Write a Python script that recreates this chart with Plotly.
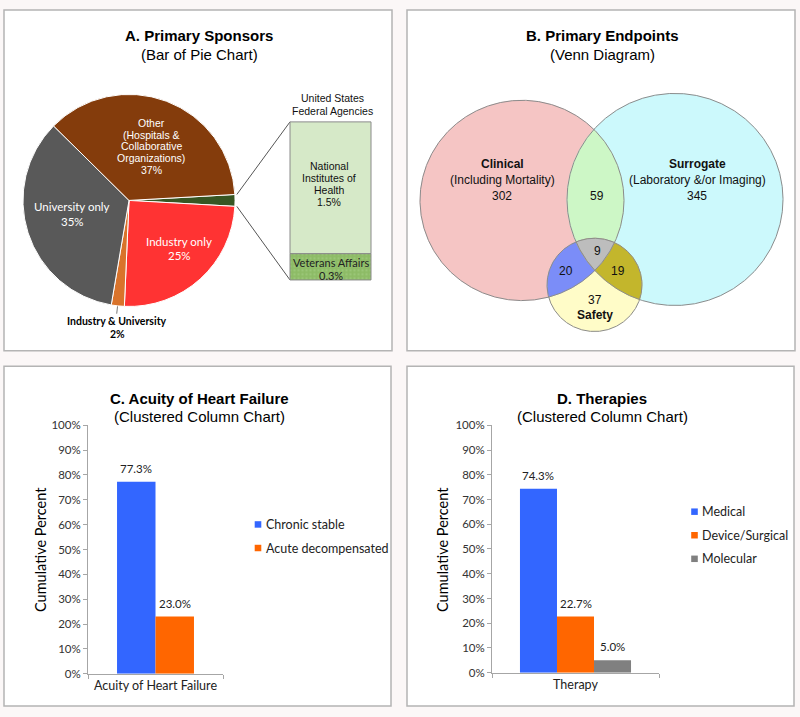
import numpy as np
import plotly.graph_objects as go

W, H = 800, 717

# ---------------- data ----------------
sponsor_labels = ["United States Federal Agencies", "Industry only", "Industry & University",
                  "University only", "Other (Hospitals & Collaborative Organizations)"]
sponsor_values = [1.8, 25, 2, 35, 37]
sponsor_colors = ["#375623", "#ff3333", "#d9732b", "#595959", "#843c0c"]

federal_labels = ["Veterans Affairs", "National Institutes of Health"]
federal_values = [0.3, 1.5]
federal_colors = ["#8dbb66", "#d6e9c8"]

venn_sets = ["Clinical", "Surrogate", "Safety"]
venn_clinical_only = 302
venn_surrogate_only = 345
venn_safety_only = 37
venn_clin_surr = 59
venn_clin_safe = 20
venn_surr_safe = 19
venn_all = 9

acuity_categories = ["Acuity of Heart Failure"]
acuity_series = ["Chronic stable", "Acute decompensated"]
acuity_values = [77.3, 23.0]
acuity_colors = ["#3366ff", "#ff6600"]

therapy_categories = ["Therapy"]
therapy_series = ["Medical", "Device/Surgical", "Molecular"]
therapy_values = [74.3, 22.7, 5.0]
therapy_colors = ["#3366ff", "#ff6600", "#808080"]

pct_tickvals = list(range(0, 101, 10))
pct_ticktext = ["%d%%" % v for v in pct_tickvals]

# ---------------- helpers ----------------
ARIAL = "Liberation Sans, Arial, sans-serif"
CAL = "Lato, sans-serif"


def pxx(x):
    return x / W


def pxy(y):
    return 1 - y / H


fig = go.Figure()
annotations = []
shapes = []


def lines_label(lines, x, y0, dy, size, color="#111", family=ARIAL, bold=None, xanchor="center"):
    for i, t in enumerate(lines):
        b = bold[i] if bold else False
        annotations.append(dict(
            x=x, y=y0 + i * dy, xref="x", yref="y", showarrow=False,
            text=("<b>%s</b>" % t) if b else t, xanchor=xanchor, yanchor="middle",
            font=dict(family=family, size=size, color=color)))


# panel backgrounds
panels = [(4, 3, 392, 350), (407, 3, 795, 350), (4, 366, 391, 712), (407, 366, 794, 712)]
for (x0, y0, x1, y1) in panels:
    shapes.append(dict(type="rect", xref="paper", yref="paper", x0=pxx(x0), x1=pxx(x1),
                       y0=pxy(y1), y1=pxy(y0), fillcolor="white",
                       line=dict(color="#b4b4b4", width=1.5), layer="below"))

# titles
for (cxp, t1, t2, y1, y2) in [(199, "A. Primary Sponsors", "(Bar of Pie Chart)", 29.5, 48),
                              (602, "B. Primary Endpoints", "(Venn Diagram)", 29.5, 48),
                              (199, "C. Acuity of Heart Failure", "(Clustered Column Chart)", 399, 417),
                              (602, "D. Therapies", "(Clustered Column Chart)", 399, 417)]:
    lines_label([t1], cxp, y1, 0, 15, color="black", bold=[True])
    lines_label([t2], cxp, y2, 0, 15, color="black")

# ---------------- A: bar of pie ----------------
cx, cy, R = 129, 197, 108
total = sum(sponsor_values)
rot = 90 - sponsor_values[0] / total * 360 / 2
fig.add_trace(go.Pie(
    values=sponsor_values, labels=sponsor_labels, sort=False, direction="clockwise",
    rotation=rot, textinfo="none", hoverinfo="label+value", showlegend=False,
    marker=dict(colors=sponsor_colors, line=dict(color="white", width=1)),
    domain=dict(x=[pxx(cx - R), pxx(cx + R)], y=[pxy(cy + R), pxy(cy - R)])))


def pie_pt(angle_deg, r):
    a = np.deg2rad(angle_deg)
    return cx + r * np.sin(a), cy - r * np.cos(a)


# bar of pie geometry
bx0, bx1, by0, by1 = 290, 371, 117, 278
ftot = sum(federal_values)
ux = bx1 - bx0
uy = (by1 - by0) / ftot
pad = 1.5
base = 0
for lab, v, c in zip(federal_labels, federal_values, federal_colors):
    pattern = dict(shape=".", fgcolor="#a9d38c", size=4, solidity=0.25) if lab == "Veterans Affairs" else None
    fig.add_trace(go.Bar(x=[0], y=[v], base=[base], width=[1], name=lab,
                         marker=dict(color=c, line=dict(color="#8a8a8a", width=1),
                                     pattern=pattern),
                         xaxis="x2", yaxis="y2", showlegend=False))
    base += v

# connector lines
a0 = rot
a1 = rot + sponsor_values[0] / total * 360
p0 = pie_pt(a0, R)
p1 = pie_pt(a1, R)
fig.add_trace(go.Scatter(x=[p0[0], bx0, None, p1[0], bx0], y=[p0[1], by0, None, p1[1], by1],
                         mode="lines", line=dict(color="#555555", width=1),
                         hoverinfo="skip", showlegend=False, xaxis="x", yaxis="y"))

# leader line for Industry & University
start = rot + sum(sponsor_values[:2]) / total * 360
mid = start + sponsor_values[2] / total * 360 / 2
q0 = pie_pt(mid, R - 1)
q1 = pie_pt(mid, R + 8)
fig.add_trace(go.Scatter(x=[q0[0], q1[0]], y=[q0[1], q1[1]], mode="lines",
                         line=dict(color="#777777", width=1), hoverinfo="skip",
                         showlegend=False, xaxis="x", yaxis="y"))

lines_label(["Other", "(Hospitals &", "Collaborative", "Organizations)",
             "%d%%" % sponsor_values[4]], 151, 118, 12, 10.5, color="white")
lines_label(["University only", "%d%%" % sponsor_values[3]], 72, 203, 15, 11.5,
            color="white", family=CAL)
lines_label(["Industry only", "%d%%" % sponsor_values[1]], 179, 239, 14.5, 11.5,
            color="white", family=CAL)
lines_label(["Industry & University", "%d%%" % sponsor_values[2]], 117, 320, 13, 10.5,
            color="black", family=CAL, bold=[True, True])
lines_label(["United States", "Federal Agencies"], 332, 93, 13, 10.5, color="#111")
lines_label(["National", "Institutes of", "Health", "%.1f%%" % federal_values[1]],
            329, 162, 12.3, 10.5, color="#111")
lines_label(["Veterans Affairs", "%.1f%%" % federal_values[0]], 331, 260, 13.5, 11,
            color="#222", family=CAL)

# ---------------- B: Venn ----------------
C_clin = (522, 197, 102)
C_surr = (675, 196, 108)
C_safe = (594.5, 283, 47.5)


def circ_pts(c, n=900):
    t = np.linspace(0, 2 * np.pi, n, endpoint=False)
    return np.c_[c[0] + c[2] * np.cos(t), c[1] + c[2] * np.sin(t)]


def inter_poly(circles):
    pts = []
    for i, c in enumerate(circles):
        P = circ_pts(c)
        m = np.ones(len(P), bool)
        for j, d in enumerate(circles):
            if j != i:
                m &= (P[:, 0] - d[0]) ** 2 + (P[:, 1] - d[1]) ** 2 <= d[2] ** 2 + 1e-9
        pts.append(P[m])
    P = np.vstack(pts)
    ctr = P.mean(0)
    ang = np.arctan2(P[:, 1] - ctr[1], P[:, 0] - ctr[0])
    P = P[np.argsort(ang)]
    return np.vstack([P, P[:1]])


venn_regions = [
    ([C_clin], "#f5c5c4"),
    ([C_surr], "#ccf9fc"),
    ([C_clin, C_surr], "#cdf7c6"),
    ([C_safe], "#fffcc8"),
    ([C_clin, C_safe], "#7b8df8"),
    ([C_surr, C_safe], "#c3b62c"),
    ([C_clin, C_surr, C_safe], "#bdbdbd"),
]
for circles, col in venn_regions:
    P = inter_poly(circles)
    fig.add_trace(go.Scatter(x=P[:, 0], y=P[:, 1], mode="lines", fill="toself",
                             fillcolor=col, line=dict(width=0.5, color=col),
                             hoverinfo="skip", showlegend=False, xaxis="x", yaxis="y"))
for c in [C_clin, C_surr, C_safe]:
    P = circ_pts(c)
    P = np.vstack([P, P[:1]])
    fig.add_trace(go.Scatter(x=P[:, 0], y=P[:, 1], mode="lines",
                             line=dict(color="#8c8c8c", width=1),
                             hoverinfo="skip", showlegend=False, xaxis="x", yaxis="y"))

lines_label(["Clinical", "(Including Mortality)", str(venn_clinical_only)], 502, 160, 16, 12,
            color="#111", bold=[True, False, False])
lines_label(["Surrogate", "(Laboratory &/or Imaging)", str(venn_surrogate_only)], 697, 160, 16, 12,
            color="#111", bold=[True, False, False])
lines_label([str(venn_clin_surr)], 597, 192, 0, 12)
lines_label([str(venn_all)], 597, 248, 0, 12)
lines_label([str(venn_clin_safe)], 566, 269, 0, 12)
lines_label([str(venn_surr_safe)], 618, 269, 0, 12)
lines_label([str(venn_safety_only), "Safety"], 595, 298, 15.5, 12, bold=[False, True])

# ---------------- C & D: clustered columns ----------------
def add_columns(cats, series, values, colors, xa, ya, group_w):
    w = group_w / len(series)
    st = -group_w / 2
    for i, (s, v, c) in enumerate(zip(series, values, colors)):
        fig.add_trace(go.Bar(x=cats, y=[v], name=s, width=[w], offset=[st + i * w],
                             marker=dict(color=c, line=dict(width=0)),
                             xaxis=xa, yaxis=ya, showlegend=False))
        annotations.append(dict(x=st + i * w + w / 2, y=v, xref=xa, yref=ya,
                                yshift=13.5, showarrow=False, text="%.1f%%" % v,
                                font=dict(family=CAL, size=11.5, color="#222")))


add_columns(acuity_categories, acuity_series, acuity_values, acuity_colors, "x3", "y3", 0.57)
add_columns(therapy_categories, therapy_series, therapy_values, therapy_colors, "x4", "y4", 0.665)

# manual legends
for series, colors, sx, ys in [(acuity_series, acuity_colors, 258, [527, 551]),
                               (therapy_series, therapy_colors, 694.5, [514, 538, 562])]:
    for s, c, yy in zip(series, colors, ys):
        shapes.append(dict(type="rect", xref="x", yref="y", x0=sx - 3.3, x1=sx + 3.3,
                           y0=yy - 3.3, y1=yy + 3.3, fillcolor=c, line=dict(width=0)))
        annotations.append(dict(x=sx + 5.5, y=yy, xref="x", yref="y", showarrow=False,
                                xanchor="left", yanchor="middle", text=s,
                                font=dict(family=CAL, size=12.5, color="#222")))

# y-axis titles
for xx in [41, 443]:
    annotations.append(dict(x=xx, y=553, xref="x", yref="y", showarrow=False, textangle=-90,
                            text="Cumulative Percent", xanchor="center", yanchor="middle",
                            font=dict(family=CAL, size=14.5, color="black")))

axcol = "#a6a6a6"
tickfont = dict(family=CAL, size=11.5, color="#333")
yax_common = dict(range=[0, 100], tickmode="array", tickvals=pct_tickvals, ticktext=pct_ticktext,
                  showgrid=False, zeroline=False, showline=True, linecolor=axcol, linewidth=1,
                  ticks="outside", ticklen=4, tickcolor=axcol, tickfont=tickfont, fixedrange=True)
xax_common = dict(type="category", range=[-0.5, 0.5], showgrid=False, zeroline=False,
                  showline=True, linecolor=axcol, linewidth=1, ticks="outside",
                  tickson="boundaries", ticklen=4, tickcolor=axcol,
                  tickfont=dict(family=CAL, size=12.5, color="#222"), fixedrange=True)

fig.update_layout(
    width=W, height=H, margin=dict(l=0, r=0, t=0, b=0),
    paper_bgcolor="#fbf7f7", plot_bgcolor="rgba(0,0,0,0)",
    barmode="overlay", showlegend=False,
    xaxis=dict(domain=[0, 1], range=[0, W], visible=False, fixedrange=True),
    yaxis=dict(domain=[0, 1], range=[H, 0], visible=False, fixedrange=True),
    xaxis2=dict(domain=[pxx(bx0 - pad), pxx(bx1 + pad)],
                range=[-0.5 - pad / ux, 0.5 + pad / ux], visible=False, fixedrange=True),
    yaxis2=dict(domain=[pxy(by1 + pad), pxy(by0 - pad)],
                range=[-pad / uy, ftot + pad / uy], visible=False, fixedrange=True),
    xaxis3=dict(domain=[pxx(88), pxx(223)], anchor="y3", **xax_common),
    yaxis3=dict(domain=[pxy(679), pxy(426)], anchor="x3", **yax_common),
    xaxis4=dict(domain=[pxx(492), pxx(659)], anchor="y4", **xax_common),
    yaxis4=dict(domain=[pxy(678), pxy(426)], anchor="x4", **yax_common),
    annotations=annotations, shapes=shapes,
)

fig.write_html("out.html", config={"displayModeBar": False},
               post_script="document.body.style.margin='0';document.body.style.overflow='hidden';")
